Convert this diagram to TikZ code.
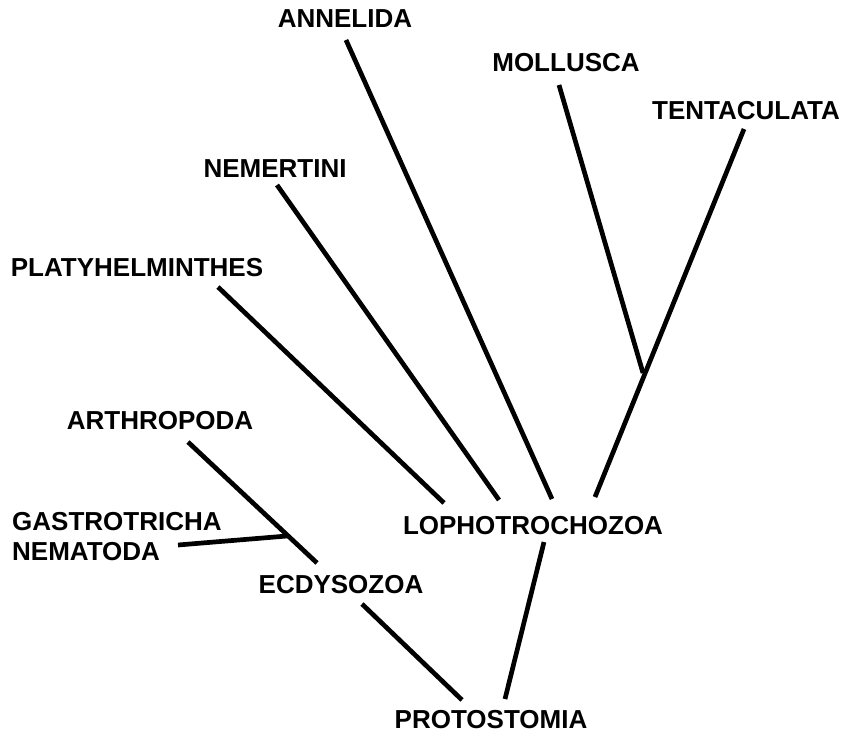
\documentclass[tikz,border=0pt]{standalone}
\usepackage{fontspec}
\setmainfont{Liberation Sans}
\begin{document}
\begin{tikzpicture}[x=1pt,y=-1pt,
  lbl/.style={anchor=base,inner sep=0pt,font=\bfseries\fontsize{26}{29.5}\selectfont},
  branch/.style={line width=4.7pt,line cap=butt}]
\useasboundingbox (0,0) rectangle (844,733);
% labels
\node[lbl] (annelida) at (345,28) {ANNELIDA};
\node[lbl] (mollusca) at (566,72) {MOLLUSCA};
\node[lbl] (tentaculata) at (746,120) {TENTACULATA};
\node[lbl] (nemertini) at (275,178) {NEMERTINI};
\node[lbl] (platy) at (137,276) {PLATYHELMINTHES};
\node[lbl] (arthropoda) at (160,429) {ARTHROPODA};
\node[lbl,anchor=base west,align=left] (gastro) at (12,560) {GASTROTRICHA\\NEMATODA};
\node[lbl] (ecdy) at (341,593) {ECDYSOZOA};
\node[lbl] (lopho) at (533,534) {LOPHOTROCHOZOA};
\node[lbl] (proto) at (491,728) {PROTOSTOMIA};
% branch end points
\coordinate (aT) at (346,40);
\coordinate (aB) at (552,499);
\coordinate (mT) at (559,85);
\coordinate (mJ) at (643,373);
\coordinate (tT) at (744,129);
\coordinate (tB) at (595,497);
\coordinate (nT) at (277,185);
\coordinate (nB) at (499,500);
\coordinate (pT) at (218,287);
\coordinate (pB) at (444,503);
\coordinate (arT) at (188,442);
\coordinate (arB) at (317,563);
\coordinate (gL) at (178,545);
\coordinate (gJ) at (287,536);
\coordinate (eT) at (362,604);
\coordinate (eB) at (462,700);
\coordinate (lT) at (544,542);
\coordinate (lB) at (505,699);
% branches
\draw[branch] (aT) -- (aB);
\draw[branch] (mT) -- (mJ);
\draw[branch] (tT) -- (tB);
\draw[branch] (nT) -- (nB);
\draw[branch] (pT) -- (pB);
\draw[branch] (arT) -- (arB);
\draw[branch] (gL) -- (gJ);
\draw[branch] (eT) -- (eB);
\draw[branch] (lT) -- (lB);
\end{tikzpicture}
\end{document}
